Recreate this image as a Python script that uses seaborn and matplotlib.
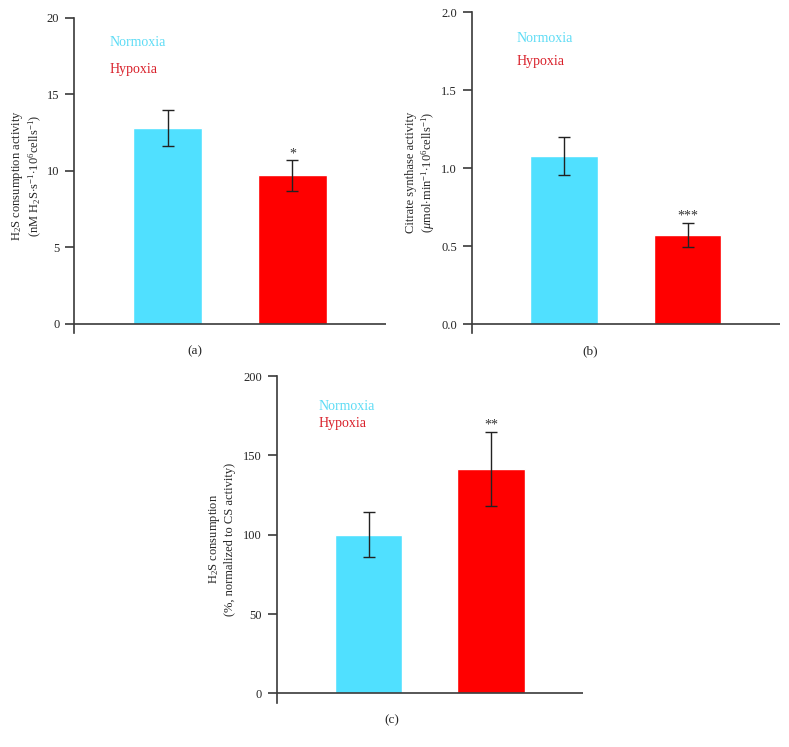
import matplotlib
matplotlib.use("Agg")
import matplotlib.pyplot as plt
import seaborn as sns
import pandas as pd

sns.set_style("white")
plt.rcParams['font.family'] = ['Liberation Serif', 'DejaVu Serif']
plt.rcParams['mathtext.fontset'] = 'custom'
plt.rcParams['mathtext.rm'] = 'Liberation Serif'
plt.rcParams['mathtext.it'] = 'Liberation Serif:italic'

groups = ["Normoxia", "Hypoxia"]
h2s_mean = [12.8, 9.7]
h2s_err = [1.15, 1.0]
cs_mean = [1.08, 0.575]
cs_err = [0.12, 0.077]
norm_mean = [100, 141.5]
norm_err = [14, 23.5]
stars = ["*", "***", "**"]
panel_labels = ["(a)", "(b)", "(c)"]

colors = ["#50E0FF", "#FF0000"]
text_colors = ["#5EDCF5", "#D9202A"]
line_col = "#3a3a3a"

W, H = 789, 747
fig = plt.figure(figsize=(W / 100, H / 100), dpi=100)

def frac(x0, x1, ytop, ybot):
    return [x0 / W, 1 - ybot / H, (x1 - x0) / W, (ybot - ytop) / H]

panels = [
    dict(rect=frac(74, 386, 17.7, 333), mean=h2s_mean, err=h2s_err, ylim=(-0.59, 20),
         yticks=[0, 5, 10, 15, 20], yfmt="{:.0f}",
         ylabel="H$_2$S consumption activity\n(nM H$_2$S$\\cdot$s$^{-1}$$\\cdot$10$^6$cells$^{-1}$)",
         leg=[(110, 42), (110, 70)], star=0, plab=(195, 351), lpad=2),
    dict(rect=frac(471.7, 780, 12.3, 333), mean=cs_mean, err=cs_err, ylim=(-0.056, 2.0),
         yticks=[0, 0.5, 1.0, 1.5, 2.0], yfmt="{:.1f}",
         ylabel="Citrate synthase activity\n($\\mu$mol$\\cdot$min$^{-1}$$\\cdot$10$^6$cells$^{-1}$)",
         leg=[(517, 39), (517, 61)], star=1, plab=(590, 351), lpad=3.5),
    dict(rect=frac(276.7, 582.7, 376, 702.7), mean=norm_mean, err=norm_err, ylim=(-5.9, 200),
         yticks=[0, 50, 100, 150, 200], yfmt="{:.0f}",
         ylabel="H$_2$S consumption\n(%, normalized to CS activity)",
         leg=[(319, 407), (319, 423)], star=2, plab=(392, 720), lpad=5.5),
]

for p in panels:
    ax = fig.add_axes(p["rect"])
    df = pd.DataFrame({"group": groups, "value": p["mean"]})
    sns.barplot(data=df, x="group", y="value", hue="group", palette=colors,
                width=0.55, ax=ax, legend=False, errorbar=None, saturation=1)
    ax.errorbar([0, 1], p["mean"], yerr=p["err"], fmt="none", ecolor="#222222",
                elinewidth=1.0, capsize=4, capthick=1.0)
    ax.set_xlim(-0.75, 1.75)
    ax.set_ylim(*p["ylim"])
    ax.set_yticks(p["yticks"])
    ax.set_yticklabels([p["yfmt"].format(v) for v in p["yticks"]])
    ax.axhline(0, color=line_col, lw=1.2, zorder=3)
    for s in ["top", "right", "bottom"]:
        ax.spines[s].set_visible(False)
    ax.spines["left"].set_color(line_col)
    ax.spines["left"].set_linewidth(1.2)
    ax.set_xticks([1.75])
    ax.set_xticklabels([""])
    ax.tick_params(axis="x", direction="in", length=6.5, width=1.2, color=line_col)
    ax.tick_params(axis="y", direction="out", length=6.5, width=1.2, color=line_col,
                   labelsize=9, pad=4, left=True)
    ax.set_xlabel("")
    ax.set_ylabel(p["ylabel"], fontsize=9, linespacing=1.15, labelpad=p["lpad"])
    i = p["star"]
    ax.text(1, p["mean"][1] + p["err"][1], stars[i], ha="center", va="bottom",
            fontsize=10, color="#333333")
    for (lx, ly), g, c in zip(p["leg"], groups, text_colors):
        fig.text(lx / W, 1 - ly / H, g, color=c, fontsize=10, ha="left", va="center")
    fig.text(p["plab"][0] / W, 1 - p["plab"][1] / H, panel_labels[i], fontsize=9.5,
             ha="center", va="center")

fig.savefig("out.png", dpi=100, facecolor="white")
